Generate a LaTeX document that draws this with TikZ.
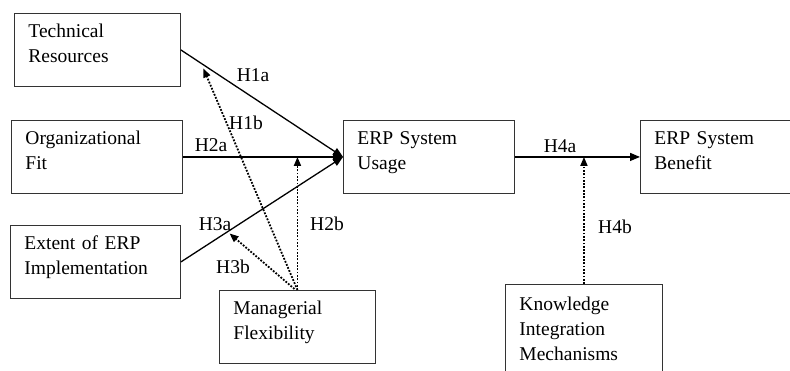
\documentclass[tikz,border=0pt]{standalone}
\usepackage{fontspec}
\setmainfont{Liberation Serif}
\usetikzlibrary{arrows.meta,calc}

\begin{document}
\begin{tikzpicture}[x=1pt,y=-1pt,
  every node/.style={font=\fontsize{19.5}{25}\selectfont},
  box/.style={draw=black!80,line width=0.9pt,anchor=north west,align=left,
    inner xsep=14pt,inner ysep=0pt,text height=24pt,text depth=49pt},
  path_main/.style={line width=1.3pt,-{Triangle[length=10pt,width=8pt]}},
  path_mod/.style={line width=1.8pt,dash pattern=on 1.8pt off 1.5pt,
    -{Triangle[length=9pt,width=7pt]}},
  hyp/.style={inner sep=0pt}]

\useasboundingbox (0,0) rectangle (790,371) ;

\node[box,text width=138pt] (tech) at (14,13) {Technical\\Resources} ;
\node[box,text width=143pt] (orgfit) at (11,120) {Organizational\\Fit} ;
\node[box,text width=142pt] (extent) at (10,225) {Extent of ERP\\Implementation} ;
\node[box,text width=128pt] (mgrflex) at (219,290) {Managerial\\Flexibility} ;
\node[box,text width=143pt] (usage) at (343,120) {ERP System\\Usage} ;
\node[box,text width=143pt] (benefit) at (640,120) {ERP System\\Benefit} ;
\node[box,text width=129pt,text height=26pt,text depth=66pt] (knowint) at (505,284) {Knowledge\\Integration\\Mechanisms} ;

% direct effects
\draw[path_main] (tech.east) -- (usage.west) ;
\draw[path_main] (orgfit.east) -- (usage.west) ;
\draw[path_main] (extent.east) -- (usage.west) ;
\draw[path_main] (usage.east) -- (benefit.west) ;

% moderating effects
\coordinate (h1b_end) at ($(tech.east)!0.145!(usage.west)+(-1,3)$) ;
\coordinate (h3b_end) at ($(extent.east)!0.30!(usage.west)+(0,3)$) ;
\draw[path_mod] (mgrflex.north) -- (h1b_end) ;
\draw[path_mod] (mgrflex.north) -- (mgrflex.north |- orgfit.east) ;
\draw[path_mod] ($(mgrflex.north)+(-3,-1)$) -- (h3b_end) ;
\draw[path_mod] (knowint.north) -- (knowint.north |- usage.east) ;

\node[hyp] (h1a) at (253,75) {H1a} ;
\node[hyp] (h1b) at (246,123) {H1b} ;
\node[hyp] (h2a) at (211,145) {H2a} ;
\node[hyp] (h2b) at (327,224) {H2b} ;
\node[hyp] (h3a) at (215,224) {H3a} ;
\node[hyp] (h3b) at (233,267) {H3b} ;
\node[hyp] (h4a) at (560,146) {H4a} ;
\node[hyp] (h4b) at (615,227) {H4b} ;

\end{tikzpicture}
\end{document}
